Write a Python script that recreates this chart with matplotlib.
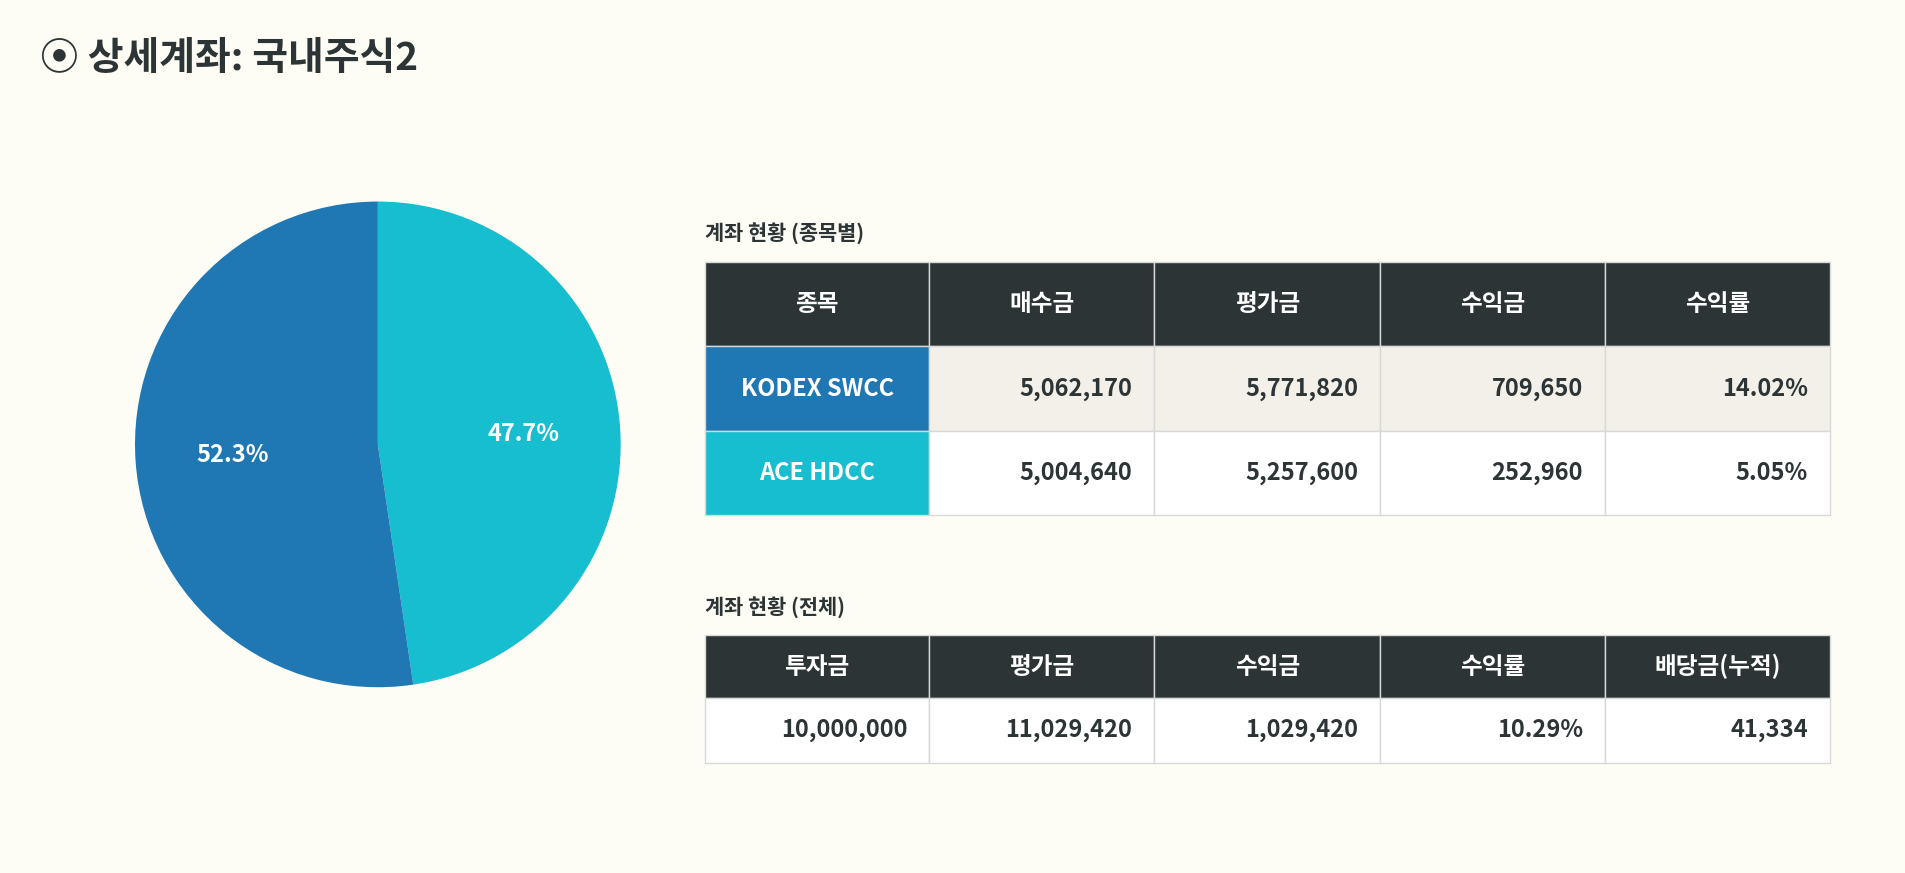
import matplotlib
matplotlib.use("Agg")
import matplotlib.pyplot as plt
from matplotlib.patches import Rectangle

plt.rcParams['font.family'] = ['Noto Sans CJK KR', 'DejaVu Sans']

names = ["KODEX SWCC", "ACE HDCC"]
buy = [5062170, 5004640]
evalv = [5771820, 5257600]
profit = [709650, 252960]
rate = [14.02, 5.05]
colors = ["#1f77b4", "#17becf"]
headers1 = ["종목", "매수금", "평가금", "수익금", "수익률"]
headers2 = ["투자금", "평가금", "수익금", "수익률", "배당금(누적)"]
total = [10000000, 11029420, 1029420, 10.29, 41334]

BG = "#fdfdf6"
HD = "#2d3436"
TC = "#2d3436"
W, H = 1568, 719
fig = plt.figure(figsize=(19.05, 8.73), dpi=100, facecolor=BG)
ov = fig.add_axes([0, 0, 1, 1]); ov.set_xlim(0, W); ov.set_ylim(H, 0); ov.axis('off')

ov.text(33, 48, "⦿ 상세계좌: 국내주식2", fontsize=28, fontweight='bold', color=TC, va='center')

# pie
pa = fig.add_axes([111/W, 1-566/H, 400/W, 400/H])
vals = [evalv[1], evalv[0]]
pa.pie(vals, colors=[colors[1], colors[0]], startangle=90, counterclock=False,
       autopct='%1.1f%%', pctdistance=0.6,
       textprops=dict(color='white', fontsize=17, fontweight='bold'))
pa.set_xlim(-1, 1); pa.set_ylim(-1, 1)
pa.set_aspect('equal')

cols = [580, 765, 950, 1136, 1321, 1506]
def cell(x0, x1, y0, y1, fc, txt, tc, align):
    ov.add_patch(Rectangle((x0, y0), x1-x0, y1-y0, facecolor=fc, edgecolor="#d8d8d8", lw=1))
    if align == 'center':
        ov.text((x0+x1)/2, (y0+y1)/2, txt, ha='center', va='center', color=tc, fontsize=17,
                fontweight='bold')
    else:
        ov.text(x1-18, (y0+y1)/2, txt, ha='right', va='center', color=tc, fontsize=17,
                fontweight='bold')

ov.text(580, 192, "계좌 현황 (종목별)", fontsize=15, fontweight='bold', color=TC, va='center')
ry = [216, 285, 355, 424]
for j, h in enumerate(headers1):
    cell(cols[j], cols[j+1], ry[0], ry[1], HD, h, 'white', 'center')
rowbg = ["#f3f0e9", "#ffffff"]
for i in range(2):
    vals_i = [f"{buy[i]:,}", f"{evalv[i]:,}", f"{profit[i]:,}", f"{rate[i]:.2f}%"]
    cell(cols[0], cols[1], ry[i+1], ry[i+2], colors[i], names[i], 'white', 'center')
    for j, v in enumerate(vals_i):
        cell(cols[j+1], cols[j+2], ry[i+1], ry[i+2], rowbg[i], v, TC, 'right')

ov.text(580, 500, "계좌 현황 (전체)", fontsize=15, fontweight='bold', color=TC, va='center')
ry2 = [523, 575, 628]
for j, h in enumerate(headers2):
    cell(cols[j], cols[j+1], ry2[0], ry2[1], HD, h, 'white', 'center')
tv = [f"{total[0]:,}", f"{total[1]:,}", f"{total[2]:,}", f"{total[3]:.2f}%", f"{total[4]:,}"]
for j, v in enumerate(tv):
    cell(cols[j], cols[j+1], ry2[1], ry2[2], "#ffffff", v, TC, 'right')

fig.savefig("out.png", dpi=100, facecolor=BG)
